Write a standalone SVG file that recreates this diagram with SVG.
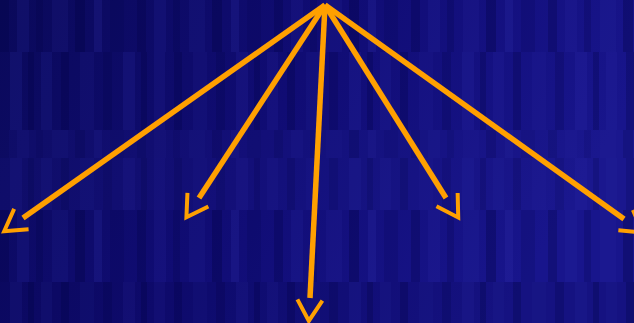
<svg xmlns="http://www.w3.org/2000/svg" width="634" height="323" viewBox="0 0 634 323">
<style>
.arrow{fill:none;stroke:#FFA000;stroke-width:5.5;stroke-linecap:butt}
.head{fill:none;stroke:#FFA000;stroke-width:4;stroke-linejoin:miter;stroke-linecap:butt}
</style>
<defs>
<linearGradient id="bg" x1="0" y1="0" x2="1" y2="0.3">
<stop offset="0" stop-color="#0a095a"/>
<stop offset="0.5" stop-color="#100c74"/>
<stop offset="1" stop-color="#18158c"/>
</linearGradient>
<pattern id="stripesA" x="0" y="0" width="137" height="323" patternUnits="userSpaceOnUse">
<rect x="0" y="0" width="9" height="323" fill="#000040" opacity="0.25"/>
<rect x="17" y="0" width="12" height="323" fill="#3030b0" opacity="0.15"/>
<rect x="36" y="0" width="7" height="323" fill="#000040" opacity="0.2"/>
<rect x="52" y="0" width="16" height="323" fill="#3030b0" opacity="0.12"/>
<rect x="75" y="0" width="10" height="323" fill="#000040" opacity="0.3"/>
<rect x="94" y="0" width="8" height="323" fill="#3838b8" opacity="0.18"/>
<rect x="110" y="0" width="14" height="323" fill="#000040" opacity="0.15"/>
</pattern>
<pattern id="stripesB" x="41" y="0" width="113" height="323" patternUnits="userSpaceOnUse">
<rect x="0" y="0" width="11" height="323" fill="#3030b0" opacity="0.15"/>
<rect x="20" y="0" width="8" height="323" fill="#000040" opacity="0.25"/>
<rect x="39" y="0" width="14" height="323" fill="#3030b0" opacity="0.1"/>
<rect x="62" y="0" width="9" height="323" fill="#000040" opacity="0.2"/>
<rect x="82" y="0" width="12" height="323" fill="#3838b8" opacity="0.15"/>
<rect x="100" y="0" width="6" height="323" fill="#000040" opacity="0.25"/>
</pattern>
<marker id="openV" markerUnits="userSpaceOnUse" markerWidth="60" markerHeight="60" refX="0" refY="0" viewBox="-30 -30 60 60" orient="auto" overflow="visible">
<path class="head" d="M 2,-12.5 L 23,0 L 2,12.5"/>
</marker>
</defs>
<g id="background">
<rect x="0" y="0" width="634" height="323" fill="url(#bg)"/>
<rect x="0" y="0" width="634" height="52" fill="url(#stripesA)"/>
<rect x="0" y="52" width="634" height="78" fill="url(#stripesB)"/>
<rect x="0" y="130" width="634" height="80" fill="#2a28a0" opacity="0.12"/>
<rect x="0" y="130" width="634" height="28" fill="url(#stripesA)" opacity="0.6"/>
<rect x="0" y="158" width="634" height="52" fill="url(#stripesB)" opacity="0.7"/>
<rect x="0" y="210" width="634" height="72" fill="url(#stripesA)"/>
<rect x="0" y="282" width="634" height="41" fill="url(#stripesB)"/>
<rect x="0" y="282" width="634" height="41" fill="#000030" opacity="0.12"/>
</g>
<g id="connectors">
<line class="arrow" x1="325" y1="5" x2="23" y2="218" marker-end="url(#openV)"/>
<line class="arrow" x1="325" y1="5" x2="199" y2="198" marker-end="url(#openV)"/>
<line class="arrow" x1="325" y1="5" x2="310" y2="298" marker-end="url(#openV)"/>
<line class="arrow" x1="325" y1="5" x2="446" y2="198" marker-end="url(#openV)"/>
<line class="arrow" x1="325" y1="5" x2="624" y2="219" marker-end="url(#openV)"/>
</g>
</svg>
